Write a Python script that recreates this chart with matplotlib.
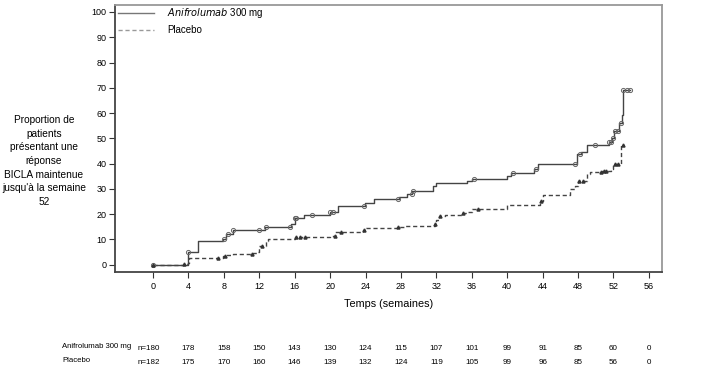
import matplotlib
matplotlib.use("Agg")
import matplotlib.pyplot as plt

plt.rcParams['font.family'] = ['Liberation Sans', 'DejaVu Sans']

# === DONNEES ===
ani_t = [0, 4, 5.1, 7.9, 8.2, 9, 12.6, 15.6, 16, 17, 20, 20.9, 23.9, 25, 27.8,
         28.7, 29.3, 31.6, 32, 35.5, 36, 40, 40.4, 43, 43.5, 47.9, 48.3, 49,
         51.5, 51.8, 52.1, 52.6, 53, 53.1, 53.9]
ani_y = [0, 5.2, 9.2, 10.2, 12.2, 13.9, 15.1, 16.1, 18.4, 19.7, 20.7, 23.4,
         24.4, 26, 26.7, 28, 29.3, 31, 32.3, 33.2, 34.1, 35.2, 36.2, 37.8, 40,
         43.7, 44.5, 47.4, 48.5, 50, 53, 56, 59.3, 69.3, 69.3]
ani_cens_t = [0, 4, 8, 8.5, 9, 12, 12.8, 15.5, 16, 16.2, 18, 20, 20.3, 23.8,
              27.7, 29.2, 29.4, 36.2, 40.6, 43.3, 47.7, 48.2, 49.9, 51.5, 51.7,
              52, 52.2, 52.5, 52.8, 53.1, 53.5, 53.9]

pla_t = [0, 3.5, 4, 4.1, 7.9, 8.2, 9, 11.3, 11.8, 12, 12.8, 13, 16, 20, 20.6,
         23.7, 24, 27.6, 28.5, 31.8, 32, 32.3, 33, 35, 35.6, 36, 40, 43.7, 44,
         47.1, 47.7, 48, 49, 49.3, 50.7, 51.7, 52, 52.9, 53.2]
pla_y = [0, 0.4, 0.8, 2.6, 3.3, 3.9, 4.3, 4.7, 5.2, 7.6, 9.2, 10.2, 10.9, 11.5,
         12.9, 13.9, 14.4, 14.8, 15.5, 16.1, 17.8, 19.2, 19.8, 20.3, 21, 22,
         23.6, 25.3, 27.7, 29.9, 31.2, 33.2, 35.8, 36.7, 37, 37.8, 40, 47.4, 47.4]
pla_cens_t = [0, 3.5, 7.3, 8.1, 11.2, 12.3, 16.1, 16.6, 17.2, 20.5, 21.2, 23.8,
              27.7, 31.9, 32.4, 35, 36.7, 43.8, 48.1, 48.6, 50.6, 50.9, 51.2,
              52.2, 52.5, 53.1]

weeks = list(range(0, 57, 4))
ani_risk = ['n=180', '178', '158', '150', '143', '130', '124', '115', '107',
            '101', '99', '91', '85', '60', '0']
pla_risk = ['n=182', '175', '170', '160', '146', '139', '132', '124', '119',
            '105', '99', '96', '85', '56', '0']


def step_value(ts, ys, t):
    v = ys[0]
    for ti, yi in zip(ts, ys):
        if ti <= t:
            v = yi
    return v


fig = plt.figure(figsize=(7.09, 3.77), dpi=100)
ax = fig.add_axes([0.162, 0.279, 0.772, 0.708])

line_col = '#444444'
ax.step(ani_t, ani_y, where='post', color=line_col, lw=1.0)
ax.step(pla_t, pla_y, where='post', color=line_col, lw=1.0, ls=(0, (3, 2)))

ax.plot(ani_cens_t, [step_value(ani_t, ani_y, t) for t in ani_cens_t], 'o',
        ms=3, mfc='none', mec='#666666', mew=0.7)
ax.plot(pla_cens_t, [step_value(pla_t, pla_y, t) for t in pla_cens_t], '^',
        ms=2.2, color='#333333')

ax.set_xlim(-4.3, 57.5)
ax.set_ylim(-2.8, 102.8)
ax.set_xticks(weeks)
ax.set_yticks(range(0, 101, 10))
ax.tick_params(labelsize=6.5, length=4, width=0.8, color='#333333', pad=2)
ax.tick_params(axis='x', pad=3)
for s in ['left', 'bottom']:
    ax.spines[s].set_color('#444444')
    ax.spines[s].set_linewidth(1.3)
for s in ['top', 'right']:
    ax.spines[s].set_color('#999999')
    ax.spines[s].set_linewidth(1.3)

# legende
ax.plot([-3.9, 0.1], [99.6, 99.6], color='#777777', lw=1.0)
ax.plot([-3.9, 0.1], [92.9, 92.9], color='#999999', lw=1.0, ls=(0, (3, 2)))
ax.text(1.6, 99.6, r'$\it{Anifrolumab}$ 300 mg', fontsize=7, va='center')
ax.text(1.6, 92.9, 'Placebo', fontsize=7, va='center')

ax.set_xlabel('Temps (semaines)', fontsize=7.8, labelpad=6)
fig.text(44 / 709, 1 - 161 / 377, "Proportion de\npatients\nprésentant une\n"
         "réponse\nBICLA maintenue\njusqu'à la semaine\n52", fontsize=7.3,
         ha='center', va='center', linespacing=1.45)

# patients a risque
fig.text(62 / 709, 1 - 347 / 377, 'Anifrolumab 300 mg', fontsize=5.6,
         va='center')
fig.text(62 / 709, 1 - 360 / 377, 'Placebo', fontsize=5.6, va='center')
for i, w in enumerate(weeks):
    xf = ax.transData.transform((w, 0))[0] / fig.bbox.width
    if i == 0:
        xf = 149 / 709
    fig.text(xf, 1 - 349 / 377, ani_risk[i], fontsize=5.8, ha='center',
             va='center')
    fig.text(xf, 1 - 362 / 377, pla_risk[i], fontsize=5.8, ha='center',
             va='center')

fig.savefig('out.png', dpi=100)
